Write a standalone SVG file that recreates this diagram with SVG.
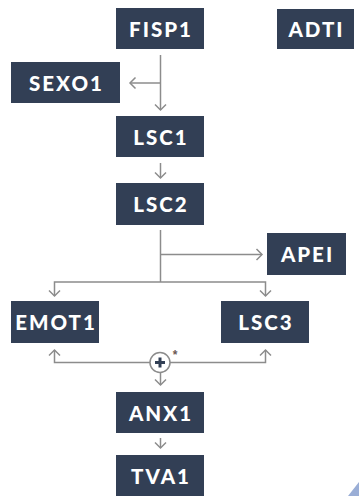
<svg xmlns="http://www.w3.org/2000/svg" width="359" height="496" viewBox="0 0 359 496">
<style>
.box{fill:#323f55}
.lbl{fill:#ffffff;font-family:Lato,"Liberation Sans",sans-serif;font-weight:900;font-size:20.5px;letter-spacing:2px;text-anchor:middle;dominant-baseline:central}
.ln{fill:none;stroke:#8c8c8c;stroke-width:1.5}
.ah{fill:none;stroke:#8c8c8c;stroke-width:1.5;stroke-linejoin:miter}
</style>
<rect width="359" height="496" fill="#ffffff"/>
<polygon points="348,496 359,482 359,496" fill="#9aaed6"/>
<g id="connectors">
<path class="ln" d="M160.5,55 V110"/>
<path class="ah" d="M155,104.5 L160.5,110 L166,104.5"/>
<path class="ln" d="M160.5,83 H130"/>
<path class="ah" d="M135.5,77.5 L130,83 L135.5,88.5"/>
<path class="ln" d="M160.5,163 V178"/>
<path class="ah" d="M155,172.5 L160.5,178 L166,172.5"/>
<path class="ln" d="M160.5,230 V282"/>
<path class="ln" d="M160.5,254.5 H262"/>
<path class="ah" d="M256.5,249 L262,254.5 L256.5,260"/>
<path class="ln" d="M54.5,296 V282 H265.5 V296"/>
<path class="ah" d="M49,290.5 L54.5,296 L60,290.5"/>
<path class="ah" d="M260,290.5 L265.5,296 L271,290.5"/>
<path class="ln" d="M54.5,350 V362.5 H150 M170,362.5 H265.5 V350"/>
<path class="ah" d="M49,355.5 L54.5,350 L60,355.5"/>
<path class="ah" d="M260,355.5 L265.5,350 L271,355.5"/>
<circle cx="160" cy="362.5" r="10" fill="#ffffff" stroke="#8c8c8c" stroke-width="1.5"/>
<path d="M160,357.5 V367.5 M155,362.5 H165" stroke="#323f55" stroke-width="3" fill="none"/>
<text x="175" y="359" font-family="'Liberation Sans',sans-serif" font-weight="bold" font-size="12" fill="#6b5a55" text-anchor="middle">*</text>
<path class="ln" d="M160.5,372.5 V385"/>
<path class="ah" d="M155,379.5 L160.5,385 L166,379.5"/>
<path class="ln" d="M160.5,438 V448"/>
<path class="ah" d="M155,442.5 L160.5,448 L166,442.5"/>
</g>
<g id="FISP1"><rect class="box" x="116" y="8" width="88" height="41"/><text class="lbl" x="161" y="29">FISP1</text></g>
<g id="ADTI"><rect class="box" x="277" y="9" width="77" height="40"/><text class="lbl" x="316.5" y="29">ADTI</text></g>
<g id="SEXO1"><rect class="box" x="11" y="62" width="109" height="41"/><text class="lbl" x="66.5" y="83">SEXO1</text></g>
<g id="LSC1"><rect class="box" x="116" y="116" width="88" height="41"/><text class="lbl" x="161" y="137">LSC1</text></g>
<g id="LSC2"><rect class="box" x="116" y="183" width="88" height="42"/><text class="lbl" x="161" y="204">LSC2</text></g>
<g id="APEI"><rect class="box" x="267" y="233" width="79" height="42"/><text class="lbl" x="307.5" y="254">APEI</text></g>
<g id="EMOT1"><rect class="box" x="11" y="301" width="88" height="42"/><text class="lbl" x="56" y="322">EMOT1</text></g>
<g id="LSC3"><rect class="box" x="221" y="301" width="88" height="42"/><text class="lbl" x="266" y="322">LSC3</text></g>
<g id="ANX1"><rect class="box" x="116" y="392" width="88" height="41"/><text class="lbl" x="161" y="413">ANX1</text></g>
<g id="TVA1"><rect class="box" x="116" y="455" width="88" height="41"/><text class="lbl" x="161" y="476">TVA1</text></g>
</svg>
